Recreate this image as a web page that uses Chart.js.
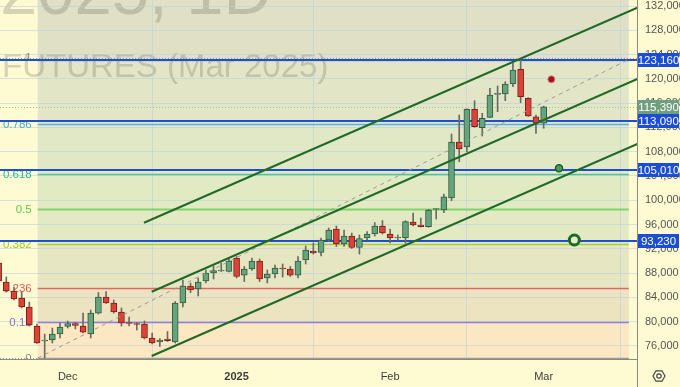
<!DOCTYPE html>
<html>
<head>
<meta charset="utf-8">
<script src="https://cdn.jsdelivr.net/npm/chart.js@4.4.1/dist/chart.umd.min.js"></script>
<style>
html, body { margin: 0; padding: 0; background: #fefbd2; }
canvas { display: block; }
</style>
</head>
<body>
<canvas id="chart-rts" width="680" height="387"></canvas>
<script>
// daily candles, x = trading day index (0 = 19 Nov 2024 ... 71 = 3 Mar 2025)
const opens = [89660, 86530, 85050, 83900, 82410, 79280, 76810, 76980, 77970, 79200,
  79700, 79280, 77970, 81420, 84060, 83070, 81590, 79780, 79610, 79610,
  77310, 76650, 77140, 76650, 83070, 85870, 85380, 86700, 88010, 88340,
  88260, 90490, 87680, 88670, 89990, 87190, 87850, 88840, 88670, 87680,
  90160, 91640, 91390, 93450, 95260, 92790, 94110, 92220, 93780, 94440,
  95760, 94440, 93780, 93780, 96420, 95920, 95670, 98480, 98390, 100370,
  109600, 108770, 114980, 111950, 113660, 117450, 117500, 119150, 121570, 116790,
  113760, 112680];
const highs = [90160, 87360, 85710, 84880, 83240, 79610, 77970, 78950, 79780, 80110,
  79860, 81420, 81920, 84800, 84970, 83570, 82250, 80770, 79860, 80110,
  78130, 77220, 78380, 83320, 86860, 86370, 87190, 88510, 89170, 89660,
  90320, 90730, 89090, 90490, 90320, 88510, 89330, 89500, 89090, 90730,
  92460, 92960, 93780, 95430, 95760, 95100, 94600, 94270, 94850, 96330,
  96660, 95260, 94270, 96630, 97900, 97080, 98510, 98600, 101030, 110910,
  114040, 115080, 116400, 114320, 118440, 118820, 119530, 122560, 123160, 116890,
  114040, 115500];
const lows = [86370, 84880, 83570, 82250, 79280, 76400, 74000, 76480, 77310, 78950,
  78790, 78130, 77310, 81260, 82990, 81420, 79280, 79280, 78620, 77140,
  76320, 75910, 76730, 76480, 82410, 84800, 84230, 86370, 87030, 88260,
  88180, 87190, 86610, 88430, 86610, 86370, 87190, 87360, 87440, 87190,
  89500, 91140, 90820, 93200, 92380, 92380, 92050, 91140, 93450, 94110,
  94440, 92960, 93450, 92910, 95760, 95590, 95540, 96910, 97950, 99930,
  106350, 108000, 112020, 110580, 113600, 114590, 116400, 118710, 116070, 113800,
  111030, 111850];
const closes = [86700, 85050, 83730, 82410, 79450, 76480, 76890, 77970, 79120, 79700,
  79370, 78290, 81420, 84060, 83070, 81590, 79780, 79700, 79530, 77310,
  76480, 76980, 76890, 83070, 85870, 85210, 86530, 88010, 88430, 88430,
  89990, 87440, 88670, 89990, 87030, 87850, 88840, 88670, 87680, 89990,
  91800, 91310, 93450, 95100, 92790, 94110, 92220, 93700, 94440, 95760,
  94600, 93780, 93860, 96470, 95920, 95670, 98390, 98560, 100580, 109600,
  108440, 114980, 112120, 113500, 117340, 117500, 119150, 121460, 117060, 113880,
  112680, 115390];

const xTickIdx = [9, 31, 51, 71];
const xTickLabels = ['Dec', '2025', 'Feb', 'Mar'];
const yTicks = [76000, 80000, 84000, 88000, 92000, 96000, 100000, 104000, 108000,
  112000, 116000, 120000, 124000, 128000, 132000];
const xRange = [0.18, 83.16];
const yRange = [73850, 132990];

// fib retracement
const fibLow = 74000;
const fibHigh = 123160;
const fibSpan = [5.09, 82.1];
const fibLevels = [0, 0.12, 0.236, 0.382, 0.5, 0.618, 0.786, 1, 1.618];
const fibLabels = ['0', '0.12', '0.236', '0.382', '0.5', '0.618', '0.786', '1', '1.618'];

// horizontal lines + last price
const hLines = [123160, 113090, 105010, 93230];
const lastPrice = 115390;

// parallel channel + fib diagonal
const upperChannel = [{x: 18.94, y: 96300}, {x: 83.2, y: 131710}];
const middleChannel = [{x: 19.94, y: 84930}, {x: 83.2, y: 119990}];
const lowerChannel = [{x: 19.94, y: 74340}, {x: 83.2, y: 109280}];
const fibDiagonal = [{x: 5.09, y: fibLow}, {x: 82.0, y: fibHigh}];

// markers
const redMarks = [{x: 72, y: 119920}];
const greenMarks = [{x: 73, y: 105260}];
const ringMarks = [{x: 75, y: 93450}];

const FONT = '"Liberation Sans", Arial, sans-serif';
const bandColors = ['#fbe8c2', '#ece3c1', '#e7e6c3', '#e3e9c2', '#e1eac3', '#e1e8c6', '#e3e6c6', '#e0e0c6'];
const levelLineColors = ['#9a9a90', '#8d7fd6', '#e06666', '#a3cf3a', '#7ed36e', '#4fc48e', '#5aaee0', '#9a9a90', '#2962ff'];
const levelTextColors = ['#8a8a80', '#8070d0', '#e05555', '#9acb2e', '#5ec94a', '#2fb5a0', '#4aa8d8', '#8a8a80', '#2962ff'];
const gridColor = 'rgba(190, 205, 228, 0.6)';

const fibPrice = lv => fibLow + lv * (fibHigh - fibLow);
const isUp = i => closes[i] >= opens[i];

const tvDecor = {
  id: 'tvDecor',
  beforeDraw(chart) {
    const {ctx, chartArea: a, scales: {x, y}} = chart;
    ctx.save();
    ctx.fillStyle = '#fefbd2';
    ctx.fillRect(0, 0, chart.width, chart.height);
    ctx.beginPath();
    ctx.rect(a.left, a.top, a.right - a.left, a.bottom - a.top);
    ctx.clip();
    const x0 = x.getPixelForValue(fibSpan[0]);
    const x1 = x.getPixelForValue(fibSpan[1]);
    for (let i = 0; i < fibLevels.length - 1; i++) {
      const yA = y.getPixelForValue(fibPrice(fibLevels[i]));
      const yB = y.getPixelForValue(fibPrice(fibLevels[i + 1]));
      ctx.fillStyle = bandColors[i];
      ctx.fillRect(x0, yB, x1 - x0, yA - yB);
    }
    // watermark
    ctx.fillStyle = 'rgba(105, 105, 85, 0.27)';
    ctx.textBaseline = 'alphabetic';
    ctx.textAlign = 'left';
    ctx.font = '67px ' + FONT;
    ctx.fillText('2025, 1D', 0, 14);
    ctx.font = '33px ' + FONT;
    ctx.fillText('FUTURES (Mar 2025)', 2, 77);
    ctx.restore();
  },
  beforeDatasetsDraw(chart) {
    const {ctx, chartArea: a, scales: {x, y}} = chart;
    const x0 = x.getPixelForValue(fibSpan[0]);
    const x1 = x.getPixelForValue(fibSpan[1]);
    ctx.save();
    ctx.beginPath();
    ctx.rect(a.left, a.top, a.right - a.left, a.bottom - a.top);
    ctx.clip();
    fibLevels.forEach((lv, i) => {
      const py = Math.round(y.getPixelForValue(fibPrice(lv))) + 0.5;
      if (py < a.top || py > a.bottom) return;
      ctx.strokeStyle = levelLineColors[i];
      ctx.lineWidth = lv === 0.5 ? 2 : 1.5;
      ctx.setLineDash([]);
      ctx.beginPath();
      ctx.moveTo(x0, py);
      ctx.lineTo(x1, py);
      ctx.stroke();
      if (lv === 0 || lv === 1) {
        ctx.lineWidth = 1;
        ctx.setLineDash([1, 2]);
        ctx.beginPath();
        ctx.moveTo(a.left, lv === 1 ? py - 2 : py);
        ctx.lineTo(lv === 1 ? a.right : x0, lv === 1 ? py - 2 : py);
        ctx.stroke();
      }
      ctx.fillStyle = levelTextColors[i];
      ctx.font = '11.5px ' + FONT;
      ctx.textAlign = 'right';
      ctx.textBaseline = 'middle';
      ctx.fillText(fibLabels[i], x0 - 6, lv === 1 ? py - 3 : py);
    });
    // last price dotted
    const lp = Math.round(y.getPixelForValue(lastPrice)) + 0.5;
    ctx.strokeStyle = '#93c88f';
    ctx.lineWidth = 1;
    ctx.setLineDash([1, 2]);
    ctx.beginPath();
    ctx.moveTo(a.left, lp);
    ctx.lineTo(a.right, lp);
    ctx.stroke();
    // blue horizontal lines
    ctx.setLineDash([]);
    ctx.strokeStyle = '#1c4fd1';
    ctx.lineWidth = 2;
    hLines.forEach(v => {
      const py = Math.round(y.getPixelForValue(v));
      ctx.beginPath();
      ctx.moveTo(a.left, py);
      ctx.lineTo(a.right, py);
      ctx.stroke();
    });
    ctx.restore();
  },
  afterDraw(chart) {
    const {ctx, chartArea: a, scales: {y}} = chart;
    ctx.save();
    // axis line down to the bottom
    ctx.strokeStyle = '#8b8b80';
    ctx.lineWidth = 1;
    ctx.beginPath();
    ctx.moveTo(a.right + 0.5, a.bottom);
    ctx.lineTo(a.right + 0.5, chart.height);
    ctx.stroke();
    // price tags
    const tag = (v, bg) => {
      const py = Math.round(y.getPixelForValue(v));
      ctx.fillStyle = bg;
      ctx.fillRect(a.right + 1, py - 7, 41, 14);
      ctx.fillStyle = '#ffffff';
      ctx.font = '11.5px ' + FONT;
      ctx.textAlign = 'center';
      ctx.textBaseline = 'middle';
      ctx.fillText(v.toLocaleString('en-US'), a.right + 21.5, py + 0.5);
    };
    tag(lastPrice, '#6f9f7e');
    hLines.forEach(v => tag(v, '#1a4ed6'));
    // settings icon
    const cx = 659, cy = 376;
    ctx.strokeStyle = '#444';
    ctx.lineWidth = 1.2;
    ctx.beginPath();
    for (let k = 0; k < 6; k++) {
      const ang = Math.PI / 3 * k;
      const px = cx + 6 * Math.cos(ang), py = cy + 6 * Math.sin(ang);
      if (k === 0) ctx.moveTo(px, py); else ctx.lineTo(px, py);
    }
    ctx.closePath();
    ctx.stroke();
    ctx.beginPath();
    ctx.arc(cx, cy, 2.2, 0, Math.PI * 2);
    ctx.stroke();
    ctx.restore();
  }
};

const ctx = document.getElementById('chart-rts').getContext('2d');

new Chart(ctx, {
  type: 'bar',
  data: {
    datasets: [
      {
        type: 'line',
        data: upperChannel,
        borderColor: '#1f6a26',
        borderWidth: 2,
        pointRadius: 0,
        order: 1
      },
      {
        type: 'line',
        data: middleChannel,
        borderColor: '#1f6a26',
        borderWidth: 2,
        pointRadius: 0,
        order: 1
      },
      {
        type: 'line',
        data: lowerChannel,
        borderColor: '#1f6a26',
        borderWidth: 2,
        pointRadius: 0,
        order: 1
      },
      {
        type: 'line',
        data: fibDiagonal,
        borderColor: '#9a9a95',
        borderWidth: 1,
        borderDash: [4, 4],
        pointRadius: 0,
        order: 2
      },
      {
        type: 'line',
        data: redMarks,
        showLine: false,
        pointRadius: 3.5,
        pointBackgroundColor: '#a3151c',
        pointBorderColor: 'rgba(225, 130, 130, 0.9)',
        pointBorderWidth: 1,
        order: 0
      },
      {
        type: 'line',
        data: greenMarks,
        showLine: false,
        pointRadius: 3.5,
        pointBackgroundColor: '#4f9b5b',
        pointBorderColor: '#1d5e25',
        pointBorderWidth: 1.5,
        order: 0
      },
      {
        type: 'line',
        data: ringMarks,
        showLine: false,
        pointRadius: 5,
        pointBackgroundColor: '#e3eccb',
        pointBorderColor: '#1d6a25',
        pointBorderWidth: 3,
        order: 0
      },
      {
        label: 'bodies',
        data: opens.map((o, i) => ({x: i, y: [o, closes[i]]})),
        backgroundColor: c => isUp(c.dataIndex) ? '#67a37e' : '#dc4338',
        borderColor: c => isUp(c.dataIndex) ? '#2e5e3c' : '#7d1f19',
        borderWidth: 1,
        borderSkipped: false,
        barThickness: 6,
        minBarLength: 1,
        grouped: false,
        order: 3
      },
      {
        label: 'wicks',
        data: lows.map((l, i) => ({x: i, y: [l, highs[i]]})),
        backgroundColor: '#6b6b62',
        barThickness: 1,
        grouped: false,
        order: 4
      }
    ]
  },
  options: {
    responsive: false,
    animation: false,
    events: [],
    layout: { padding: 0, autoPadding: false },
    plugins: {
      legend: { display: false },
      tooltip: { enabled: false }
    },
    scales: {
      x: {
        type: 'linear',
        min: xRange[0],
        max: xRange[1],
        offset: false,
        grid: { color: gridColor, drawTicks: false },
        border: { color: '#8b8b80' },
        afterBuildTicks: s => { s.ticks = xTickIdx.map(v => ({value: v})); },
        afterFit: s => {
          s.height = 28;
          s.paddingLeft = 0;
          s.paddingRight = 0;
        },
        ticks: {
          autoSkip: false,
          maxRotation: 0,
          padding: 11,
          color: '#3d3d3d',
          font: c => ({family: FONT, size: 11, weight: c.tick && c.tick.value === 31 ? 'bold' : 'normal'}),
          callback: v => xTickLabels[xTickIdx.indexOf(v)]
        }
      },
      y: {
        position: 'right',
        min: yRange[0],
        max: yRange[1],
        grid: { color: gridColor, drawTicks: false },
        border: { color: '#8b8b80' },
        afterBuildTicks: s => { s.ticks = yTicks.map(v => ({value: v})); },
        afterFit: s => {
          s.width = 43;
          s.paddingTop = 0;
          s.paddingBottom = 0;
        },
        ticks: {
          padding: 8,
          color: '#555',
          font: { family: FONT, size: 11 },
          callback: v => v.toLocaleString('en-US')
        }
      }
    }
  },
  plugins: [tvDecor]
});
</script>
</body>
</html>
